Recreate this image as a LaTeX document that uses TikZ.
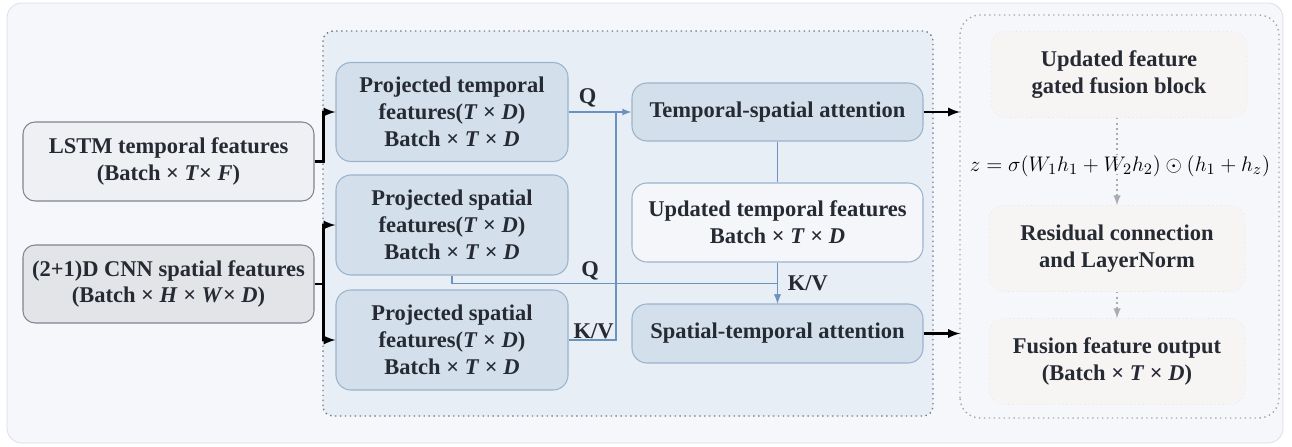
\documentclass[tikz,border=0pt]{standalone}
\usepackage{amsmath}
\usepackage{fontspec}
\setmainfont{Liberation Serif}
\usetikzlibrary{positioning}
\usetikzlibrary{calc}
\usepackage{color}

\definecolor{ink}{HTML}{262A33}
\definecolor{outerbg}{HTML}{F5F7FB}
\definecolor{outerline}{HTML}{D8DCE6}
\definecolor{midbg}{HTML}{E8EEF6}
\definecolor{midline}{HTML}{6E7C8E}
\definecolor{rightline}{HTML}{A3A8B0}
\definecolor{inlight}{HTML}{EEF0F4}
\definecolor{indark}{HTML}{E2E4E8}
\definecolor{inline}{HTML}{7F8690}
\definecolor{projbg}{HTML}{D3E0EC}
\definecolor{projline}{HTML}{9AB3CC}
\definecolor{updbg}{HTML}{F4F6FA}
\definecolor{fusebg}{HTML}{F7F4F4}
\definecolor{fuseline}{HTML}{E6E0E0}
\definecolor{bluewire}{HTML}{6A93C0}
\definecolor{graywire}{HTML}{A8ABB0}

\tikzset{
  txt/.style={font=\fontsize{12.8}{15.2}\selectfont\bfseries,text=ink,align=center,inner sep=0pt},
  inbox/.style={txt,shape=rectangle,rounded corners=2.4mm,draw=inline,line width=0.6pt},
  projbox/.style={txt,shape=rectangle,rounded corners=3mm,draw=projline,fill=projbg,line width=0.6pt},
  fusebox/.style={txt,shape=rectangle,rounded corners=3mm,draw=fuseline,fill=fusebg,dotted,
    minimum width=51.2mm,minimum height=17.2mm},
  bluewire/.style={draw=bluewire,line width=0.8pt},
  blackwire/.style={draw=black,line width=1.3pt,-latex},
  graywire/.style={draw=graywire,dotted,line width=0.9pt,-latex}
}

\begin{document}
\begin{tikzpicture}[x=0.2mm,y=0.2mm]
\useasboundingbox (0,0) rectangle (1292,446);
% frames
\path[fill=outerbg,draw=outerline,rounded corners=3mm] (7,3) rectangle (1283,443);
\path[fill=midbg,draw=midline,dotted,line width=0.8pt,rounded corners=2mm] (323,30) rectangle (933,415);
\path[fill=outerbg,draw=rightline,dotted,line width=0.8pt,rounded corners=4mm] (960,28) rectangle (1279,431);

% inputs and projections
\path
(168.5,284.5) node [inbox,fill=inlight,minimum width=58.2mm,minimum height=15.8mm] (lstm)
  {LSTM temporal features\\(Batch × \textit{T}× \textit{F})}
(168.5,162) node [inbox,fill=indark,minimum width=58.2mm,minimum height=15.6mm] (cnn)
  {(2+1)D CNN spatial features\\(Batch × \textit{H} × \textit{W}× \textit{D})}
(452,334) node [projbox,minimum width=46.4mm,minimum height=19.8mm] (pt)
  {Projected temporal\\features(\textit{T} × \textit{D})\\Batch × \textit{T} × \textit{D}}
(452,221) node [projbox,minimum width=46.4mm,minimum height=20mm] (ps1)
  {Projected spatial\\features(\textit{T} × \textit{D})\\Batch × \textit{T} × \textit{D}}
(452,106) node [projbox,minimum width=46.4mm,minimum height=20mm] (ps2)
  {Projected spatial\\features(\textit{T} × \textit{D})\\Batch × \textit{T} × \textit{D}};

% attention
\path
(777.5,334) node [projbox,minimum width=58.2mm,minimum height=11.6mm] (tsa)
  {Temporal-spatial attention}
(777.5,223.5) node [projbox,fill=updbg,minimum width=58.2mm,minimum height=15.8mm] (upd)
  {Updated temporal features\\Batch × \textit{T} × \textit{D}}
(777.5,112.5) node [projbox,minimum width=58.2mm,minimum height=11.8mm] (sta)
  {Spatial-temporal attention};

% fusion
\path
(1119,371.5) node [fusebox] (gfb) {Updated feature\\gated fusion block}
(1117,197.5) node [fusebox] (res) {Residual connection\\and LayerNorm}
(1117,84.5) node [fusebox] (out) {Fusion feature output\\(Batch × \textit{T} × \textit{D})};

\coordinate (jn) at (616,334);
\coordinate (in1) at (960,334);
\coordinate (in2) at (960,112.5);

\draw [blackwire] (lstm.east) -- ++(9,0) |- (pt.west);
\draw [blackwire] (cnn.east) -- ++(9,0) |- (ps1.west);
\draw [blackwire] (cnn.east) -- ++(9,0) |- (ps2.west);

\draw [bluewire,-latex] (pt.east) -- (tsa.west);
\node [txt,above] at ($(pt.east)+(19,5)$) {Q};
\draw [bluewire] (ps2.east) -| (jn);
\node [txt,above] at ($(ps2.east)+(25,1)$) {K/V};
\draw [bluewire,-latex] (ps1.south) -- ++(0,-8) -| (sta.north);
\node [txt,above] at (590,166) {Q};
\draw [bluewire] (tsa.south) -- (upd.north);
\draw [bluewire,-latex] (upd.south) -- (sta.north);
\node [txt,right] at ($(upd.south)+(10,-21)$) {K/V};

\draw [blackwire] (tsa.east) -- (in1);
\draw [blackwire] (sta.east) -- (in2);

\draw [graywire] (gfb.south -| res.north) -- (res.north);
\draw [graywire] (res.south) -- (out.north);
\node [text=black,inner sep=0pt] at (1120,280)
  {\fontsize{13.2}{15}\selectfont $z=\sigma(W_1h_1+W_2h_2)\odot(h_1+h_z)$};
\end{tikzpicture}
\end{document}
